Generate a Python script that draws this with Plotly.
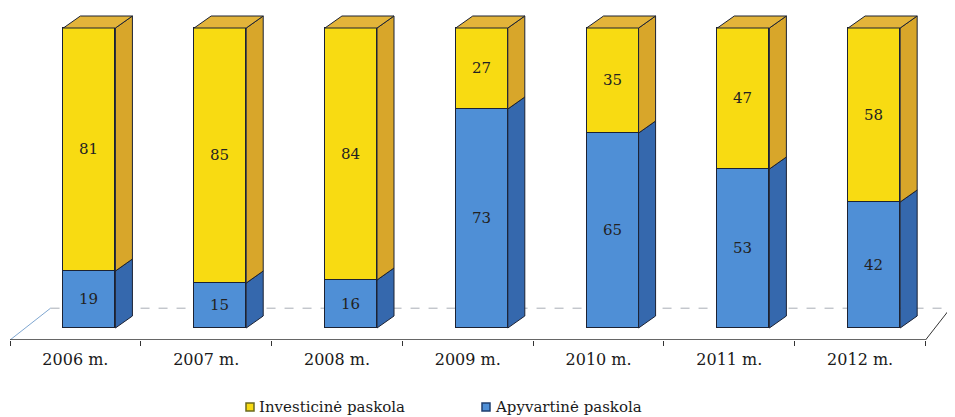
import plotly.graph_objects as go

years = ["2006 m.", "2007 m.", "2008 m.", "2009 m.", "2010 m.", "2011 m.", "2012 m."]
apyvartine = [19, 15, 16, 73, 65, 53, 42]
investicine = [81, 85, 84, 27, 35, 47, 58]

# colours (front face / side face / top face)
BLUE, BLUE_SIDE = "#4f8fd6", "#3568ad"
YELLOW, YELLOW_SIDE, YELLOW_TOP = "#f8db12", "#d8a62a", "#e3b43a"
EDGE = "#1c2233"
FONT = "DejaVu Serif"

# 3d geometry in axis units
shift = 0.107      # bars sit a bit right of the category centre
half = 0.199       # half width of the front face
dx, dy = 0.13, 4.0 # depth of the box

xs = [i + shift for i in range(len(years))]

fig = go.Figure()


def side_faces(lo, hi):
    px, py = [], []
    for x, a, b in zip(xs, lo, hi):
        r = x + half
        px += [r, r + dx, r + dx, r, r, None]
        py += [a, a + dy, b + dy, b, a, None]
    return px, py


bot_lo = [0] * len(years)
bot_hi = apyvartine
top_hi = [a + b for a, b in zip(apyvartine, investicine)]

for lo, hi, col in [(bot_lo, bot_hi, BLUE_SIDE), (bot_hi, top_hi, YELLOW_SIDE)]:
    sx, sy = side_faces(lo, hi)
    fig.add_trace(go.Scatter(x=sx, y=sy, mode="lines", fill="toself", fillcolor=col,
                             line=dict(color=EDGE, width=1), showlegend=False, hoverinfo="skip"))

# top lids
tx, ty = [], []
for x, h in zip(xs, top_hi):
    l, r = x - half, x + half
    tx += [l, l + dx, r + dx, r, l, None]
    ty += [h, h + dy, h + dy, h, h, None]
fig.add_trace(go.Scatter(x=tx, y=ty, mode="lines", fill="toself", fillcolor=YELLOW_TOP,
                         line=dict(color=EDGE, width=1), showlegend=False, hoverinfo="skip"))

fig.add_trace(go.Bar(x=xs, y=apyvartine, name="Apyvartinė paskola", width=2 * half,
                     marker=dict(color=BLUE, line=dict(color=EDGE, width=1)),
                     text=apyvartine, textposition="inside", insidetextanchor="middle",
                     textangle=0, constraintext="none",
                     textfont=dict(family=FONT, size=15, color="#222"), showlegend=False))
fig.add_trace(go.Bar(x=xs, y=investicine, name="Investicinė paskola", width=2 * half,
                     marker=dict(color=YELLOW, line=dict(color=EDGE, width=1)),
                     text=investicine, textposition="inside", insidetextanchor="middle",
                     textangle=0, constraintext="none",
                     textfont=dict(family=FONT, size=15, color="#222"), showlegend=False))

# floor
back_y = 6.6
fig.add_shape(type="line", x0=-0.19, x1=6.69, y0=back_y, y1=back_y, layer="below",
              line=dict(color="#a9adb5", width=1, dash="dash"))
fig.add_shape(type="line", x0=-0.5, x1=-0.19, y0=-4, y1=back_y, layer="below",
              line=dict(color="#7fa6d0", width=1))
fig.add_shape(type="line", x0=6.5, x1=6.69, y0=-4, y1=back_y, layer="below",
              line=dict(color="#333", width=1))
fig.add_shape(type="line", x0=-0.5, x1=6.5, y0=-4, y1=-4,
              line=dict(color="#333", width=1.5))

# page body has an 8px margin, so the figure is 8px smaller and everything is in figure pixels
W, H, L, B = 940, 327, 2, 332
def px(x): return (x - 8 - L) / W
def py(y): return (B - (y - 8)) / H

# legend drawn by hand: small square right against the label (page pixels)
legend_items = [("Investicinė paskola", YELLOW, "#6b6a1e", 246),
                ("Apyvartinė paskola", BLUE, "#1f3f70", 482)]
for label, fill, border, x0 in legend_items:
    fig.add_shape(type="rect", xref="paper", yref="paper",
                  x0=px(x0), x1=px(x0 + 8), y0=py(411), y1=py(403),
                  fillcolor=fill, line=dict(color=border, width=1.5))
    fig.add_annotation(xref="paper", yref="paper", x=px(x0 + 11), y=py(407),
                       xanchor="left", yanchor="middle", showarrow=False,
                       text=label, font=dict(family=FONT, size=15, color="#1a1a1a"))

fig.update_layout(
    width=947, height=409,
    margin=dict(l=2, r=5, t=5, b=77, autoexpand=False),
    barmode="stack",
    bargap=0,
    showlegend=False,
    plot_bgcolor="white", paper_bgcolor="white",
    font=dict(family=FONT, size=16, color="#1a1a1a"),
    xaxis=dict(range=[-0.5, 6.687], tickvals=list(range(len(years))), ticktext=years,
               ticks="", showgrid=False, zeroline=False, showline=False,
               tickfont=dict(size=16), ticklabelstandoff=8,
               minor=dict(tickvals=[i - 0.5 for i in range(len(years) + 1)],
                          ticks="outside", ticklen=5, tickcolor="#333", showgrid=False)),
    yaxis=dict(range=[-4, 105], visible=False),
)

fig.write_html("out.html")
